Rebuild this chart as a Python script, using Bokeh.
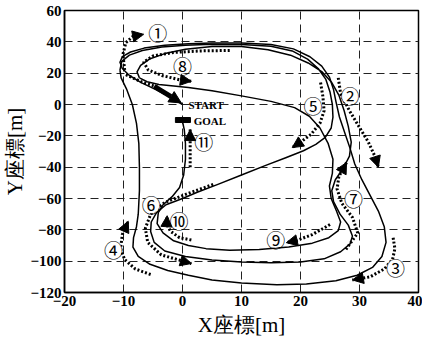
from bokeh.plotting import figure
from bokeh.models import Range1d, FixedTicker, Arrow, NormalHead
from bokeh.embed import file_html
from bokeh.resources import INLINE
from bokeh.core.properties import value

# ---------------- data ----------------
x_ticks = [-20, -10, 0, 10, 20, 30, 40]
y_ticks = [-120, -100, -80, -60, -40, -20, 0, 20, 40, 60]

# robot path, lap 1 (START -> outer loop -> left side up)
lap1_x = [0.0, -2.0, -4.5, -7.0, -9.0, -10.2, -10.6, -10.2, -8.8, -6.5, -3.0, 1.0, 5.0, 10.0, 15.0, 18.8, 21.6, 23.6,
          24.9, 25.6, 26.0, 26.6, 27.5, 28.4, 29.2, 30.4, 31.8, 33.2, 34.2, 34.5, 33.8, 32.2, 29.6, 26.0, 21.0, 16.0,
          10.0, 5.0, 1.0, -2.5, -5.5, -7.5, -8.4, -8.3, -7.8, -7.5, -7.3, -7.3, -7.4, -7.8, -8.5, -9.5, -10.4, -10.6]
lap1_y = [0.0, 4.5, 9.5, 14.0, 18.5, 23.0, 27.0, 30.5, 33.5, 36.0, 37.8, 38.8, 39.3, 39.3, 38.3, 35.5, 30.5, 24.5,
          17.5, 9.5, 2.0, -8.0, -18.0, -28.0, -38.0, -48.0, -58.0, -68.0, -78.0, -88.0, -97.0, -104.0, -109.0,
          -112.5, -114.5, -115.0, -114.0, -112.0, -109.0, -106.0, -102.0, -97.0, -91.0, -85.0, -78.0, -70.0, -55.0,
          -40.0, -25.0, -12.0, 0.0, 10.0, 17.0, 22.0]

# lap 2 (top -> diagonal down-left -> bottom -> right side up -> top)
lap2_x = [-10.6, -10.3, -9.0, -6.8, -3.5, 0.5, 5.0, 10.0, 15.0, 18.6, 21.2, 23.0, 24.3, 25.0, 25.4, 25.5, 25.2, 24.2,
          22.6, 20.5, 17.5, 14.0, 10.0, 6.0, 2.5, 0.0, -2.8, -4.4, -5.3, -5.4, -4.8, -3.0, 0.5, 5.0, 10.0, 15.0, 20.0,
          24.0, 26.8, 28.4, 28.8, 28.1, 26.7, 25.6, 25.3, 25.9, 27.2, 28.3, 28.6, 28.1, 27.4, 26.5, 25.3, 23.6, 21.3,
          18.3, 14.5, 10.0, 5.0, 0.5, -3.0, -5.6, -7.1, -7.7, -7.3]
lap2_y = [22.0, 27.5, 31.5, 34.5, 36.7, 37.8, 38.5, 38.3, 37.2, 34.2, 29.0, 23.0, 16.0, 8.0, 0.0, -8.0, -15.0, -21.0,
          -25.5, -29.5, -34.0, -39.0, -45.0, -51.0, -56.0, -60.0, -64.0, -69.0, -75.0, -81.0, -88.0, -93.5, -97.0,
          -99.3, -100.5, -101.0, -100.5, -98.5, -94.0, -89.0, -84.0, -77.0, -70.0, -62.0, -55.0, -48.0, -41.0, -33.0,
          -24.0, -14.0, -4.0, 6.0, 14.0, 21.0, 26.5, 31.5, 35.0, 37.0, 37.0, 35.2, 32.5, 29.0, 25.0, 20.8, 17.0]

# lap 3 (diagonal down-right -> inner bottom loop -> GOAL)
lap3_x = [-7.3, -6.0, -4.0, -1.5, 1.0, 5.0, 10.0, 15.0, 19.0, 21.5, 23.3, 24.7, 25.5, 25.4, 24.9, 25.2, 26.1, 26.8,
          26.4, 24.8, 22.0, 18.0, 13.0, 8.0, 4.0, 1.0, -1.5, -3.3, -4.3, -4.1, -3.3, -1.8, -0.5, 0.2, 0.5, 0.5, 0.3, 0.0]
lap3_y = [17.0, 14.5, 12.8, 11.8, 10.8, 8.8, 5.5, 2.0, -2.0, -7.5, -15.0, -25.0, -35.0, -44.0, -52.0, -60.0, -68.0,
          -75.0, -80.5, -85.0, -88.5, -91.0, -92.5, -93.0, -92.0, -90.0, -87.0, -82.0, -76.0, -69.0, -64.0, -59.0,
          -53.0, -45.0, -35.0, -25.0, -16.0, -11.0]

# numbered instruction arrows (dotted)
arr1_x = [-9.8, -10.1, -9.6, -8.4, -6.6]
arr1_y = [22.0, 32.0, 39.5, 43.5, 44.8]
arr2_x = [26.4, 26.8, 28.3, 29.9, 31.5, 32.6, 33.2]
arr2_y = [17.0, 7.0, -4.0, -14.0, -24.0, -33.0, -40.0]
arr3_x = [35.7, 36.0, 35.6, 34.2, 31.8, 28.8]
arr3_y = [-85.0, -92.0, -99.0, -105.0, -110.0, -112.0]
arr4_x = [-5.4, -8.0, -9.8, -10.5, -10.2, -9.2]
arr4_y = [-108.5, -105.0, -99.0, -92.0, -83.0, -74.5]
arr5_x = [23.4, 23.8, 24.0, 23.3, 21.8, 20.2, 18.6]
arr5_y = [14.0, 5.0, -4.0, -12.0, -19.0, -23.5, -27.5]
arr6_x = [5.2, 0.8, -3.0, -5.4, -6.3, -5.9, -3.6, 1.5]
arr6_y = [-51.0, -57.0, -62.5, -70.0, -79.0, -88.0, -96.0, -101.5]
arr7_x = [27.7, 29.7, 28.8, 27.0, 26.2, 26.5, 27.8]
arr7_y = [-92.5, -82.0, -72.0, -63.0, -54.0, -46.0, -37.0]
arr8_x = [8.0, 3.0, -1.5, -5.0, -6.6, -5.8, -3.5, -0.5, 1.5]
arr8_y = [34.5, 34.2, 33.2, 31.0, 27.0, 22.0, 18.5, 15.8, 14.8]
arr9_x = [25.0, 22.0, 19.5, 17.6]
arr9_y = [-76.6, -83.0, -86.6, -88.2]
arr10_x = [1.5, -0.5, -2.0, -2.7, -2.6]
arr10_y = [-86.5, -85.0, -81.0, -76.5, -71.0]
arr11_x = [1.3, 1.3]
arr11_y = [-40.0, -16.0]

# big start arrow
start_trail_x = [-9.6, -6.7, -3.9]
start_trail_y = [19.0, 14.0, 10.8]
start_arrow_x = [-4.8, -0.2]
start_arrow_y = [11.5, 1.0]

# circled labels
lab_txt = ["①", "②", "③", "④", "⑤", "⑥", "⑦", "⑧", "⑨", "⑩", "⑪"]
lab_x = [-4.2, 28.4, 36.1, -11.7, 22.1, -5.3, 29.0, 0.0, 15.8, -0.6, 3.6]
lab_y = [46.0, 5.5, -104.0, -92.5, -0.8, -64.0, -60.0, 25.0, -86.0, -74.0, -23.5]

# START / GOAL
mark_txt = ["START", "GOAL"]
mark_x = [1.0, 1.9]
mark_y = [-0.5, -10.5]
goal_left, goal_right, goal_bottom, goal_top = -1.2, 1.35, -11.5, -8.3

# ---------------- figure ----------------
p = figure(width=422, height=340, x_range=Range1d(-20, 40), y_range=Range1d(-120, 60),
           output_backend="svg", toolbar_location=None,
           min_border_left=62, min_border_right=4, min_border_top=10, min_border_bottom=48)
p.background_fill_color = "white"
p.border_fill_color = "white"
p.outline_line_color = "black"
p.outline_line_width = 1.5

p.xaxis.ticker = FixedTicker(ticks=x_ticks)
p.yaxis.ticker = FixedTicker(ticks=y_ticks)
for ax in (p.xaxis, p.yaxis):
    ax.axis_line_width = 1.5
    ax.axis_line_color = "black"
    ax.major_tick_in = 0
    ax.major_tick_out = 0
    ax.minor_tick_in = 0
    ax.minor_tick_out = 0
    ax.major_label_text_font = "Liberation Serif"
    ax.major_label_text_font_style = "bold"
    ax.major_label_text_font_size = "15px"
    ax.major_label_text_color = "black"
    ax.axis_label_text_font = "Liberation Serif"
    ax.axis_label_text_font_style = "normal"
    ax.axis_label_text_font_size = "21px"
    ax.axis_label_text_color = "black"
    ax.major_label_standoff = 3
p.xaxis.axis_label = "X座標[m]"
p.yaxis.axis_label = "Y座標[m]"
p.xaxis.axis_label_standoff = 4
p.yaxis.axis_label_standoff = 0

p.xgrid.ticker = FixedTicker(ticks=x_ticks)
p.ygrid.ticker = FixedTicker(ticks=y_ticks)
for g in (p.xgrid, p.ygrid):
    g.grid_line_color = "#222222"
    g.grid_line_dash = "8 5"
    g.grid_line_width = 1

# solid paths
for lx, ly in ((lap1_x, lap1_y), (lap2_x, lap2_y), (lap3_x, lap3_y)):
    p.line(lx, ly, line_color="black", line_width=1.5, line_join="round")

# dotted arrows
arrows = [(arr1_x, arr1_y), (arr2_x, arr2_y), (arr3_x, arr3_y), (arr4_x, arr4_y), (arr5_x, arr5_y),
          (arr6_x, arr6_y), (arr7_x, arr7_y), (arr8_x, arr8_y), (arr9_x, arr9_y), (arr10_x, arr10_y),
          (arr11_x, arr11_y)]
for ax_, ay_ in arrows:
    p.line(ax_, ay_, line_color="black", line_width=3, line_dash="2 2")
    p.add_layout(Arrow(end=NormalHead(size=11, fill_color="black", line_color="black"),
                       x_start=ax_[-2], y_start=ay_[-2], x_end=ax_[-1], y_end=ay_[-1],
                       line_color=None))

# start trail + big arrow
p.line(start_trail_x, start_trail_y, line_color="black", line_width=3, line_dash="2 2")
p.add_layout(Arrow(end=NormalHead(size=12, fill_color="black", line_color="black"),
                   x_start=start_arrow_x[0], y_start=start_arrow_y[0],
                   x_end=start_arrow_x[1], y_end=start_arrow_y[1],
                   line_color="black", line_width=5))

# goal bar
p.quad(left=[goal_left], right=[goal_right], bottom=[goal_bottom], top=[goal_top],
       fill_color="black", line_color="black")

# START / GOAL text
p.text(x=mark_x, y=mark_y, text=mark_txt, text_font=value("Liberation Serif"), text_font_style="bold",
       text_font_size="11px", text_align="left", text_baseline="middle", text_color="black")

# circled numbers
p.scatter(x=lab_x, y=lab_y, size=17, fill_color="white", line_color=None)
p.text(x=lab_x, y=lab_y, text=lab_txt, text_font=value("Noto Sans CJK JP"), text_font_size="19px",
       text_align="center", text_baseline="middle", text_color="black")

open("out.html", "w").write(file_html(p, INLINE))
